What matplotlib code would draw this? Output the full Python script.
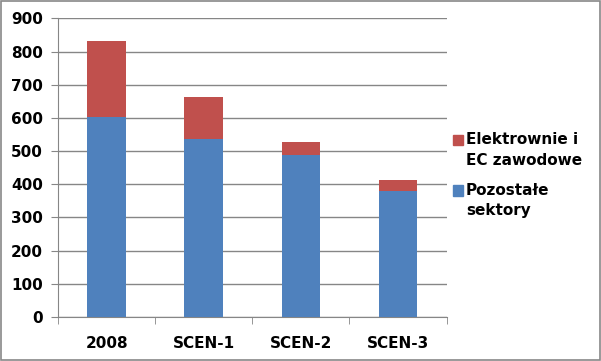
import matplotlib.pyplot as plt
from matplotlib.patches import Rectangle
import numpy as np

categories = ['2008', 'SCEN-1', 'SCEN-2', 'SCEN-3']
pozostale = [603, 537, 488, 379]
elektrownie = [228, 125, 39, 33]
labels = ['Elektrownie i\nEC zawodowe', 'Pozostałe\nsektory']
colors = ['#C0504D', '#4F81BD']

plt.rcParams['font.family'] = 'DejaVu Sans'
plt.rcParams['font.weight'] = 'bold'

fig = plt.figure(figsize=(6.01, 3.61), dpi=100)
ax = fig.add_axes([0.097, 0.122, 0.646, 0.827])

x = np.arange(len(categories))
ax.bar(x, pozostale, width=0.4, color=colors[1], zorder=3)
ax.bar(x, elektrownie, width=0.4, bottom=pozostale, color=colors[0], zorder=3)

ax.set_ylim(0, 900)
ax.set_xlim(-0.5, len(categories) - 0.5)
ax.set_yticks(range(0, 901, 100))
ax.yaxis.grid(True, color='#868686', linewidth=1, zorder=0)
ax.set_xticks(x)
ax.set_xticklabels(categories, fontsize=11, fontweight='bold')
ax.set_xticks(np.arange(-0.5, len(categories), 1), minor=True)
ax.tick_params(axis='x', which='major', length=0, pad=14)
ax.tick_params(axis='x', which='minor', length=5, color='#868686')
ax.tick_params(axis='y', length=5, color='#868686', labelsize=11, pad=6)
for lab in ax.get_yticklabels():
    lab.set_fontweight('bold')
for s in ['top', 'right']:
    ax.spines[s].set_visible(False)
for s in ['left', 'bottom']:
    ax.spines[s].set_color('#868686')

# legend drawn by hand so the marker sits on the first line
leg_y = [0.612, 0.472]
for lab, col, yy in zip(labels, colors, leg_y):
    fig.patches.append(Rectangle((0.753, yy - 0.015), 0.017, 0.03, color=col,
                                 transform=fig.transFigure))
    fig.text(0.775, yy + 0.021, lab, fontsize=11, fontweight='bold', va='top',
             linespacing=1.45)

fig.patches.append(Rectangle((0.001, 0.002), 0.997, 0.995, fill=False,
                             edgecolor='#888888', linewidth=1.2,
                             transform=fig.transFigure))

fig.savefig('out.png', dpi=100)
